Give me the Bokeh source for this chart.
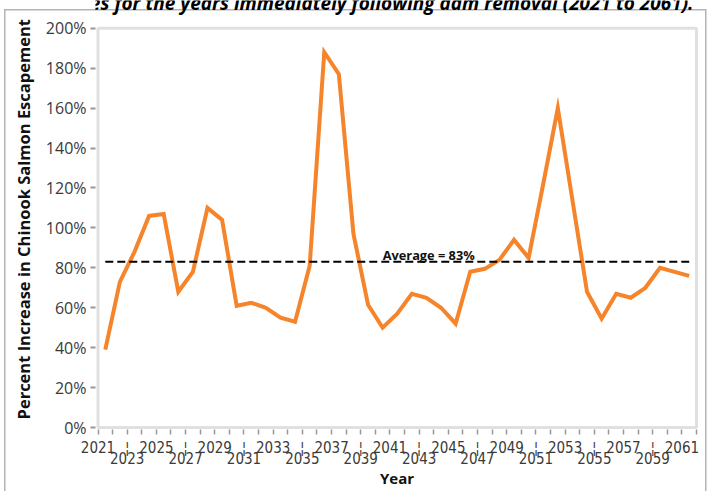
from bokeh.plotting import figure
from bokeh.models import Range1d, FixedTicker, Label, PrintfTickFormatter, BoxAnnotation
from bokeh.embed import file_html
from bokeh.resources import INLINE

# ---- data ----
years = list(range(2021, 2062))
escapement_pct = [39, 73, 88, 106, 107, 68, 78, 110, 104, 61,
                  62.5, 60, 55, 53, 81, 188, 177, 97, 61.5, 50,
                  57, 67, 65, 60, 52, 78, 79.5, 84, 94, 85,
                  122, 160, 114, 68, 54.5, 67, 65, 70, 80, 78, 76]
average_pct = 83
average_label = "Average = 83%"
y_ticks = [0, 20, 40, 60, 80, 100, 120, 140, 160, 180, 200]
upper_row_years = years[0::4]      # 2021, 2025, ... 2061
lower_row_years = years[2::4]      # 2023, 2027, ... 2059
caption = "by hatcheries for the years immediately following dam removal (2021 to 2061)."
y_title = "Percent Increase in Chinook Salmon Escapement"

ORANGE = "#F5842A"
GRAY = "#989898"
PAGE_LINE = "#b4b4b4"
NARROW = "'Liberation Sans Narrow', 'DejaVu Sans Condensed', sans-serif"

# ---- geometry (page pixels) ----
W, H = 712, 491
BOX_L, BOX_R, BOX_T, BOX_B = 97.5, 696.0, 28.0, 430.0   # visible chart box
FRAME_L, FRAME_R, FRAME_T, FRAME_B = 95, 698, 0, 432    # drawing frame (clip area)
x0, x1 = years[0] - 0.5, years[-1] + 0.5
px_per_x = (BOX_R - BOX_L) / (x1 - x0)
px_per_y = (BOX_B - BOX_T) / (y_ticks[-1] - y_ticks[0])


def px_x(px):
    return x0 + (px - BOX_L) / px_per_x


def px_y(py):
    return y_ticks[0] + (BOX_B - py) / px_per_y


p = figure(width=W, height=H, output_backend="svg", toolbar_location=None,
           x_range=Range1d(px_x(FRAME_L), px_x(FRAME_R)),
           y_range=Range1d(px_y(FRAME_B), px_y(FRAME_T)),
           min_border_left=FRAME_L, min_border_right=W - FRAME_R,
           min_border_top=FRAME_T, min_border_bottom=H - FRAME_B)
p.xgrid.visible = False
p.ygrid.visible = False
p.outline_line_color = None
p.border_fill_color = None
p.background_fill_color = None
# scanned-page box edges (left, right, top) painted behind the transparent canvas
p.styles = {
    "background": (
        f"linear-gradient({PAGE_LINE}, {PAGE_LINE}) 4px 9px / 1.5px 482px no-repeat, "
        f"linear-gradient({PAGE_LINE}, {PAGE_LINE}) 705px 9px / 1.5px 482px no-repeat, "
        f"linear-gradient({PAGE_LINE}, {PAGE_LINE}) 4px 9px / 702px 1.5px no-repeat, "
        "white"
    )
}

# y axis
p.yaxis.ticker = FixedTicker(ticks=y_ticks)
p.yaxis.formatter = PrintfTickFormatter(format="%d%%")
p.yaxis.axis_line_color = None
p.yaxis.major_tick_line_color = GRAY
p.yaxis.major_tick_line_width = 2
p.yaxis.major_tick_out = 5
p.yaxis.major_tick_in = 0
p.yaxis.minor_tick_line_color = None
p.yaxis.major_label_text_font = "Open Sans"
p.yaxis.major_label_text_font_size = "16px"
p.yaxis.major_label_text_color = "#3a3a3a"
p.yaxis.major_label_standoff = 4
p.yaxis.axis_label = y_title + "\u00a0" * 2
p.yaxis.axis_label_text_font = "Open Sans"
p.yaxis.axis_label_text_font_style = "bold"
p.yaxis.axis_label_text_font_size = "16.5px"
p.yaxis.axis_label_text_color = "#111111"
p.yaxis.axis_label_standoff = 8

# x axis: ticks at year boundaries, labels staggered in two rows
boundaries = [y - 0.5 for y in years] + [years[-1] + 0.5]
overrides = {b: "" for b in boundaries}
for y in upper_row_years:
    overrides[y - 0.5] = str(y)
for y in lower_row_years:
    overrides[y - 0.5] = "\u00a6\n" + str(y)
p.xaxis.ticker = FixedTicker(ticks=boundaries)
p.xaxis.major_label_overrides = overrides
p.xaxis.axis_line_color = None
p.xaxis.major_tick_line_color = GRAY
p.xaxis.major_tick_line_width = 1.5
p.xaxis.major_tick_out = 5
p.xaxis.major_tick_in = 0
p.xaxis.minor_tick_line_color = None
p.xaxis.major_label_text_font = NARROW
p.xaxis.major_label_text_font_size = "15px"
p.xaxis.major_label_text_color = "#3a3a3a"
p.xaxis.major_label_text_line_height = 0.65
p.xaxis.major_label_standoff = 4
p.xaxis.axis_label = "Year"
p.xaxis.axis_label_text_font = "Open Sans"
p.xaxis.axis_label_text_font_style = "bold"
p.xaxis.axis_label_text_font_size = "15px"
p.xaxis.axis_label_text_color = "#111111"
p.xaxis.axis_label_standoff = -3

# chart box
p.add_layout(BoxAnnotation(left=x0, right=x1, bottom=y_ticks[0], top=y_ticks[-1],
                           fill_color="white", fill_alpha=1, line_color=GRAY, line_width=3,
                           level="underlay"))

# series
p.line(years, escapement_pct, line_color=ORANGE, line_width=4, line_join="miter")
p.line([years[0], years[-1]], [average_pct, average_pct], line_color="black",
       line_width=2, line_dash="8 4")
p.add_layout(Label(x=2040, y=average_pct, text=average_label, text_font="Open Sans",
                   text_font_style="bold", text_font_size="12.8px", text_color="#111111",
                   y_offset=7, text_baseline="alphabetic"))

# cropped document caption along the top edge
p.add_layout(Label(x=px_x(693), y=px_y(2.5), text=caption,
                   text_font="Open Sans", text_font_style="bold italic",
                   text_font_size="19px", text_color="black",
                   text_align="right", text_baseline="alphabetic"))

open("out.html", "w").write(file_html(p, INLINE))
